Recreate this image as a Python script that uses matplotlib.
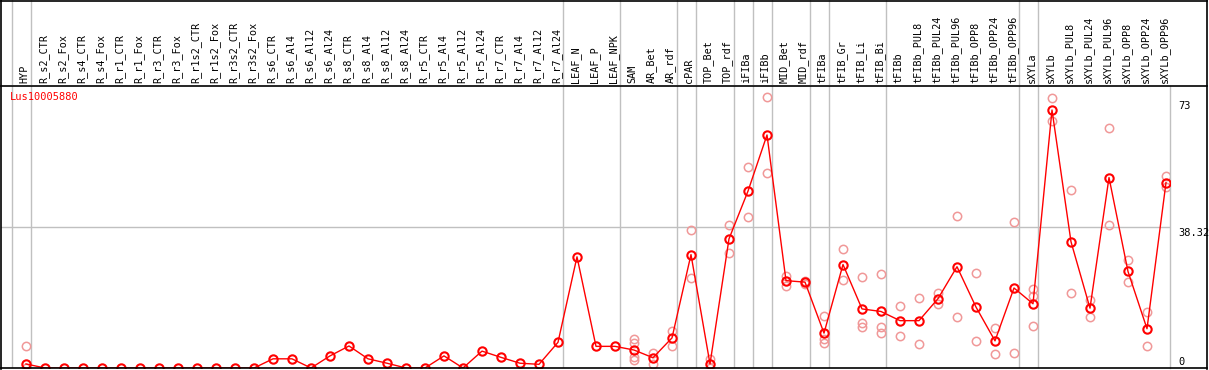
import matplotlib
matplotlib.use("Agg")
import matplotlib.pyplot as plt
from matplotlib.lines import Line2D

labels = ["HYP", "R_s2_CTR", "R_s2_Fox", "R_s4_CTR", "R_s4_Fox", "R_r1_CTR", "R_r1_Fox",
          "R_r3_CTR", "R_r3_Fox", "R_r1s2_CTR", "R_r1s2_Fox", "R_r3s2_CTR", "R_r3s2_Fox",
          "R_s6_CTR", "R_s6_Al4", "R_s6_Al12", "R_s6_Al24", "R_s8_CTR", "R_s8_Al4",
          "R_s8_Al12", "R_s8_Al24", "R_r5_CTR", "R_r5_Al4", "R_r5_Al12", "R_r5_Al24",
          "R_r7_CTR", "R_r7_Al4", "R_r7_Al12", "R_r7_Al24", "LEAF_N", "LEAF_P", "LEAF_NPK",
          "SAM", "AR_Bet", "AR_rdf", "cPAR", "TOP_Bet", "TOP_rdf", "iFIBa", "iFIBb",
          "MID_Bet", "MID_rdf", "tFIBa", "tFIB_Gr", "tFIB_Li", "tFIB_Bi", "tFIBb",
          "tFIBb_PUL8", "tFIBb_PUL24", "tFIBb_PUL96", "tFIBb_OPP8", "tFIBb_OPP24",
          "tFIBb_OPP96", "sXYLa", "sXYLb", "sXYLb_PUL8", "sXYLb_PUL24", "sXYLb_PUL96",
          "sXYLb_OPP8", "sXYLb_OPP24", "sXYLb_OPP96"]

means = [1.1, 0, 0, 0, 0, 0, 0, 0, 0, 0, 0, 0, 0,
         2.5, 2.5, 0, 3.3, 6.0, 2.5, 1.3, 0, 0, 3.3, 0, 4.6, 2.9, 1.3, 1.0, 7.0,
         30.3, 5.9, 5.9, 4.9, 2.8, 8.2, 30.9, 1.1, 35.2, 48.2, 63.5, 23.8, 23.4,
         9.5, 28.2, 16.1, 15.4, 12.9, 12.9, 18.9, 27.6, 16.6, 7.4, 21.8, 17.5,
         70.3, 34.4, 16.3, 51.9, 26.3, 10.7, 50.5]

replicates = [[5.9, 0], [], [], [], [], [], [], [], [], [], [], [], [],
              [], [], [], [], [], [], [], [], [], [], [], [], [], [], [], [],
              [], [], [],
              [7.9, 6.8, 3.1, 2.2], [4.2, 1.0], [10.1, 6.1], [37.5, 24.4], [2.4, 0],
              [39.1, 31.4], [54.9, 41.1], [73.8, 53.0], [25.0, 22.4], [23.6, 23.0],
              [14.2, 7.8, 6.8], [32.3, 24.1], [24.9, 12.2, 11.1], [25.5, 11.3, 9.5],
              [16.8, 8.8], [19.1, 6.5], [20.4, 17.5], [41.3, 14.0], [26.0, 7.4],
              [10.9, 3.7], [39.9, 4.0], [21.5, 19.5, 11.5], [73.6, 67.3], [48.4, 20.5],
              [18.6, 14.0], [65.3, 38.9], [29.5, 23.3], [15.2, 6.0], [52.2, 49.2]]

# indices after which a group separator is drawn
group_ends = [-1, 0, 28, 31, 34, 35, 37, 38, 39, 41, 42, 45, 52, 53]

title = "Lus10005880"
ytick_vals = [73, 38.32, 0]
ytick_text = ["73", "38.32", "0"]

W, H = 1209, 370
fig = plt.figure(figsize=(W / 100, H / 100), dpi=100)

RED = "#ff0000"
PINK = "#f09898"
GRAY = "#c0c0c0"
MONO = "DejaVu Sans Mono"

# plot area in pixels
px_left, px_right, px_top, px_bot = 1, 1170, 86, 368
ax = fig.add_axes([px_left / W, (H - px_bot) / H, (px_right - px_left) / W, (px_bot - px_top) / H])
x0_px, dx_px = 26, 19
xmin = (px_left - x0_px) / dx_px
xmax = (px_right - x0_px) / dx_px
ax.set_xlim(xmin, xmax)
ppu = 3.67
ax.set_ylim(0, (px_bot - px_top) / ppu)
ax.set_xticks([])
ax.set_yticks([])
for s in ["left", "bottom", "top"]:
    ax.spines[s].set_visible(False)
ax.spines["right"].set_color(GRAY)
ax.spines["right"].set_linewidth(1.0)

xs = list(range(len(labels)))
for g in group_ends:
    ax.axvline(g + 0.24, color=GRAY, lw=1.0, zorder=1)
ax.axhline(38.32, color=GRAY, lw=1.0, zorder=1)

rx, ry = [], []
for i, reps in enumerate(replicates):
    for v in reps:
        rx.append(i)
        ry.append(v)
ax.plot(rx, ry, linestyle="none", marker="o", ms=6.0, mfc="none", mec=PINK, mew=1.1, zorder=2)
ax.plot(xs, means, color=RED, lw=1.0, marker="o", ms=6.0, mfc="none", mec=RED, mew=1.5, zorder=3)

ax.text(9 / (px_right - px_left), 1 - 11 / (px_bot - px_top), title, color=RED,
        transform=ax.transAxes, ha="left", va="center", fontsize=7.5, family=MONO)

xlab = (1178 - x0_px) / dx_px
for v, t in zip(ytick_vals, ytick_text):
    va = "bottom" if v == 0 else "top"
    yy = 0.4 if v == 0 else v - 0.3
    ax.text(xlab, yy, t, ha="left", va=va, fontsize=7.5, family=MONO, clip_on=False)

# header with rotated labels
hx = fig.add_axes([px_left / W, (H - 85) / H, (px_right - px_left) / W, 85 / H])
hx.set_xlim(xmin, xmax)
hx.set_ylim(0, 85)
hx.axis("off")
for g in group_ends:
    hx.axvline(g + 0.24, color=GRAY, lw=1.0)
for i, lab in enumerate(labels):
    hx.text(i - 0.08, 2, lab, rotation=90, ha="center", va="bottom", fontsize=7.3, family=MONO)

# outer frame
def fline(x1, y1, x2, y2, lw=1.2, c="black"):
    fig.add_artist(Line2D([x1 / W, x2 / W], [1 - y1 / H, 1 - y2 / H], color=c, lw=lw,
                          transform=fig.transFigure))

fline(1, 0.6, 1207, 0.6)
fline(1, 85.5, 1207, 85.5)
fline(1.2, 0, 1.2, 368.5)
fline(1206.5, 0, 1206.5, 368.5)
fline(1, 368, 1207, 368)

fig.savefig("out.png", dpi=100, facecolor="white")
